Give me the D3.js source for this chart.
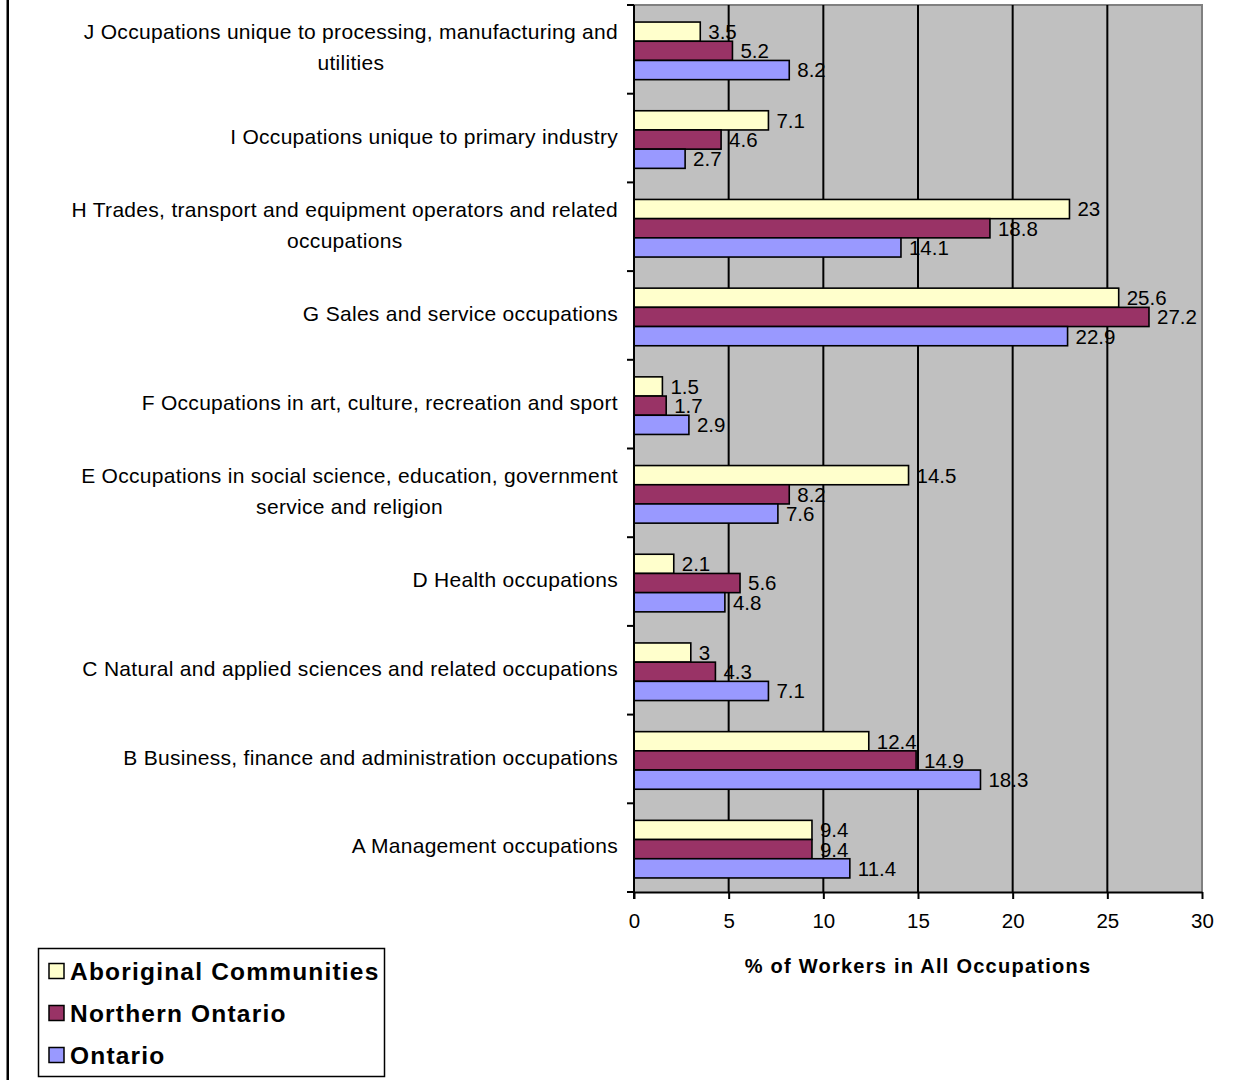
<!DOCTYPE html>
<html>
<head>
<meta charset="utf-8">
<script src="https://cdn.jsdelivr.net/npm/d3@7"></script>
<style>
  html, body { margin: 0; padding: 0; background: #fff; }
  svg { display: block; }
  text { font-family: "Liberation Sans", Arial, sans-serif; fill: #000; }
</style>
</head>
<body>
<svg id="chart" width="1254" height="1080"></svg>
<script>
// Occupation groups, listed top to bottom; each entry holds its label lines
const categories = [
  ["J Occupations unique to processing, manufacturing and", "utilities"],
  ["I Occupations unique to primary industry"],
  ["H Trades, transport and equipment operators and related", "occupations"],
  ["G Sales and service occupations"],
  ["F Occupations in art, culture, recreation and sport"],
  ["E Occupations in social science, education, government", "service and religion"],
  ["D Health occupations"],
  ["C Natural and applied sciences and related occupations"],
  ["B Business, finance and administration occupations"],
  ["A Management occupations"]
];

const seriesNames = ["Aboriginal Communities", "Northern Ontario", "Ontario"];
const seriesColors = ["#FFFFCC", "#993366", "#9999FF"];

// % of workers per occupation group, same order as categories
const aboriginal = [3.5, 7.1, 23, 25.6, 1.5, 14.5, 2.1, 3, 12.4, 9.4];
const northern   = [5.2, 4.6, 18.8, 27.2, 1.7, 8.2, 5.6, 4.3, 14.9, 9.4];
const ontario    = [8.2, 2.7, 14.1, 22.9, 2.9, 7.6, 4.8, 7.1, 18.3, 11.4];

const xTicks = [0, 5, 10, 15, 20, 25, 30];
const xTitle = "% of Workers in All Occupations";

const seriesValues = [aboriginal, northern, ontario];

const labelFont = { size: "21px", spacing: "0.3px" };

const svg = d3.select("#chart");

// outer frame line on the left
svg.append("line")
  .attr("x1", 7.75).attr("x2", 7.75)
  .attr("y1", 0).attr("y2", 1080)
  .attr("stroke", "#000").attr("stroke-width", 2.5);

const plot = { left: 634, right: 1202, top: 5, bottom: 892 };

const x = d3.scaleLinear().domain([0, 30]).range([plot.left, plot.right]);
const y = d3.scaleBand()
  .domain(d3.range(categories.length))
  .range([plot.top, plot.bottom]);

const barH = 19.2;
const ySeries = d3.scaleBand()
  .domain(d3.range(seriesNames.length))
  .range([0, barH * seriesNames.length]);
const barOffset = (y.bandwidth() - barH * seriesNames.length) / 2 + 1.5;

// plot background
svg.append("rect")
  .attr("x", plot.left).attr("y", plot.top)
  .attr("width", plot.right - plot.left)
  .attr("height", plot.bottom - plot.top)
  .attr("fill", "#C0C0C0");

// top and right border in gray
svg.append("path")
  .attr("d", `M${plot.left},${plot.top}H${plot.right}V${plot.bottom}`)
  .attr("fill", "none").attr("stroke", "#808080").attr("stroke-width", 2);

// vertical gridlines
svg.append("g")
  .selectAll("line")
  .data(xTicks.filter(t => t > 0 && t < 30))
  .join("line")
  .attr("x1", d => x(d)).attr("x2", d => x(d))
  .attr("y1", plot.top).attr("y2", plot.bottom)
  .attr("stroke", "#000").attr("stroke-width", 2);

// bars
const rows = categories.map((c, i) => ({ i, values: seriesValues.map(s => s[i]) }));
const groups = svg.append("g").selectAll("g")
  .data(rows)
  .join("g")
  .attr("transform", d => `translate(0,${y(d.i) + barOffset})`);

groups.selectAll("rect")
  .data(d => d.values.map((v, k) => ({ v, k })))
  .join("rect")
  .attr("x", x(0))
  .attr("y", d => ySeries(d.k))
  .attr("width", d => x(d.v) - x(0))
  .attr("height", ySeries.bandwidth())
  .attr("fill", d => seriesColors[d.k])
  .attr("stroke", "#000").attr("stroke-width", 1.6);

// value labels
groups.selectAll("text")
  .data(d => d.values.map((v, k) => ({ v, k })))
  .join("text")
  .attr("x", d => x(d.v) + 8)
  .attr("y", d => ySeries(d.k) + ySeries.bandwidth() / 2)
  .attr("dy", "0.36em")
  .style("font-size", "20.5px")
  .text(d => d.v);

// left axis with ticks on category boundaries
const gy = svg.append("g").attr("transform", `translate(${plot.left},0)`);
gy.append("line")
  .attr("x1", 0).attr("x2", 0)
  .attr("y1", plot.top).attr("y2", plot.bottom + 7)
  .attr("stroke", "#000").attr("stroke-width", 2);
gy.selectAll("line.tick")
  .data(d3.range(categories.length + 1))
  .join("line")
  .attr("class", "tick")
  .attr("x1", -7).attr("x2", 0)
  .attr("y1", d => d < categories.length ? y(d) : plot.bottom)
  .attr("y2", d => d < categories.length ? y(d) : plot.bottom)
  .attr("stroke", "#000").attr("stroke-width", 2);

// bottom axis
const xAxis = d3.axisBottom(x).tickValues(xTicks).tickSize(7).tickPadding(14).tickSizeOuter(0);
const gx = svg.append("g")
  .attr("transform", `translate(0,${plot.bottom})`)
  .call(xAxis);
gx.select(".domain").attr("stroke", "#000").attr("stroke-width", 2);
gx.selectAll(".tick line").attr("stroke", "#000").attr("stroke-width", 2);
gx.selectAll(".tick text")
  .attr("font-family", null)
  .attr("font-size", null)
  .style("font-size", "20.5px");

// category labels: single lines right-aligned, wrapped labels centred as a block
const labelRight = plot.left - 16;
const lineH = 31;
const catG = svg.append("g");
categories.forEach((lines, i) => {
  const cy = y(i) + y.bandwidth() / 2 - 2;
  const t = catG.append("text")
    .style("font-size", labelFont.size)
    .style("letter-spacing", labelFont.spacing);
  const spans = lines.map((ln, j) => t.append("tspan")
    .attr("y", cy + (j - (lines.length - 1) / 2) * lineH)
    .attr("dy", "0.36em")
    .text(ln));
  if (lines.length === 1) {
    t.attr("text-anchor", "end");
    spans[0].attr("x", labelRight);
  } else {
    const w = d3.max(spans, s => s.node().getComputedTextLength());
    t.attr("text-anchor", "middle");
    spans.forEach(s => s.attr("x", labelRight - w / 2));
  }
});

// axis title
svg.append("text")
  .attr("x", (plot.left + plot.right) / 2)
  .attr("y", 966)
  .attr("dy", "0.36em")
  .attr("text-anchor", "middle")
  .style("font-size", "20px")
  .style("font-weight", "bold")
  .style("letter-spacing", "1.25px")
  .text(xTitle);

// legend
const legend = svg.append("g");
legend.append("rect")
  .attr("x", 38.5).attr("y", 948.5)
  .attr("width", 346).attr("height", 128)
  .attr("fill", "#fff").attr("stroke", "#000").attr("stroke-width", 1.5);
const ly = d3.scalePoint().domain(d3.range(seriesNames.length)).range([971, 1055]);
const items = legend.selectAll("g.item")
  .data(seriesNames)
  .join("g")
  .attr("class", "item")
  .attr("transform", (d, k) => `translate(0,${ly(k)})`);
items.append("rect")
  .attr("x", 49).attr("y", -7.5)
  .attr("width", 15).attr("height", 15)
  .attr("fill", (d, k) => seriesColors[k])
  .attr("stroke", "#000").attr("stroke-width", 1.5);
items.append("text")
  .attr("x", 70)
  .attr("dy", "0.36em")
  .style("font-size", "24.5px")
  .style("font-weight", "bold")
  .style("letter-spacing", "1.2px")
  .text(d => d);
</script>
</body>
</html>
